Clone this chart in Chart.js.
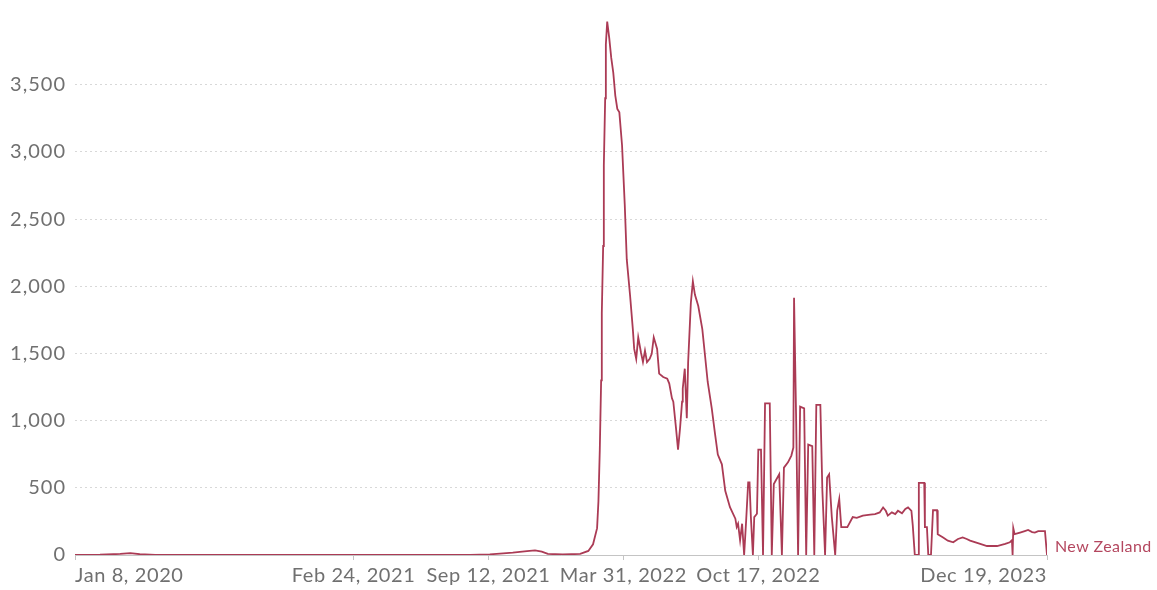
<!DOCTYPE html>
<html>
<head>
<meta charset="utf-8">
<script src="https://cdn.jsdelivr.net/npm/chart.js@4.4.1/dist/chart.umd.min.js"></script>
<style>
  html, body { margin: 0; padding: 0; background: #fff; }
</style>
</head>
<body>
<canvas id="chart" width="1157" height="590"></canvas>
<script>
// Daily new confirmed cases per million, New Zealand
// days = days since Jan 8, 2020
const days = [
    0, 7, 37, 67, 82, 96, 119, 156, 259, 334, 482, 586, 615, 630, 649, 670, 682, 692, 701, 723,
    749, 761, 768, 774, 776, 778, 780, 781, 783, 784, 786, 787, 789, 792, 795, 798, 801, 804, 807, 811,
    815, 818, 823, 827, 829, 832, 835, 839, 842, 845, 848, 852, 855, 858, 863, 866, 872, 878, 881, 885,
    887, 891, 894, 897, 900, 901, 904, 907, 909, 913, 916, 919, 924, 930, 934, 938, 944, 949, 953, 959,
    964, 971, 979, 981, 983, 986, 989, 992, 995, 998, 1000, 1002, 1005, 1007, 1011, 1013, 1017, 1020, 1023, 1030,
    1033, 1036, 1044, 1048, 1051, 1057, 1062, 1065, 1066, 1069, 1072, 1075, 1081, 1084, 1087, 1093, 1096, 1099, 1105, 1108,
    1112, 1115, 1118, 1122, 1127, 1130, 1133, 1136, 1145, 1153, 1159, 1168, 1179, 1186, 1193, 1198, 1202, 1205, 1211, 1216,
    1220, 1226, 1231, 1235, 1240, 1242, 1245, 1250, 1251, 1259, 1260, 1263, 1265, 1269, 1272, 1278, 1279, 1287, 1294, 1302,
    1309, 1316, 1322, 1327, 1342, 1352, 1367, 1379, 1386, 1389, 1390, 1391, 1393, 1401, 1408, 1413, 1419, 1423, 1428, 1438,
    1441
];
const cases = [
    0, 0, 2, 8, 14, 6, 1, 0, 1, 1, 0, 1, 5, 10, 17, 29, 34, 25, 8, 4,
    8, 30, 80, 200, 400, 780, 1300, 1800, 2300, 2900, 3400, 3800, 3970, 3850, 3700, 3590, 3420, 3320, 3295, 3050,
    2610, 2200, 1926, 1681, 1534, 1460, 1620, 1509, 1436, 1521, 1436, 1460, 1497, 1620, 1534, 1350, 1325, 1313, 1276, 1166,
    1141, 945, 785, 945, 1141, 1239, 1387, 1018, 1436, 1877, 2037, 1939, 1853, 1681, 1485, 1288, 1092, 896, 748, 675,
    478, 356, 270, 209, 233, 110, 233, 0, 258, 540, 540, 282, 0, 282, 307, 785, 785, 0, 1129, 1129,
    0, 528, 601, 0, 650, 690, 740, 800, 1914, 1043, 0, 1104, 1092, 0, 822, 810, 0, 1117, 1117, 478,
    0, 577, 601, 282, 0, 331, 417, 208, 208, 282, 276, 293, 300, 305, 317, 354, 329, 293, 317, 305,
    329, 310, 342, 354, 329, 220, 0, 0, 537, 537, 207, 207, 0, 0, 333, 333, 155, 131, 107, 95,
    119, 131, 119, 107, 83, 67, 67, 83, 95, 110, 0, 200, 155, 167, 178, 186, 171, 167, 178, 178,
    0
];

const startDate = '2020-01-08';
const tickDates = ['2020-01-08', '2021-02-24', '2021-09-12', '2022-03-31', '2022-10-17', '2023-12-19'];
const tickLabels = ['Jan 8, 2020', 'Feb 24, 2021', 'Sep 12, 2021', 'Mar 31, 2022', 'Oct 17, 2022', 'Dec 19, 2023'];
const yTicks = [0, 500, 1000, 1500, 2000, 2500, 3000, 3500];
const seriesName = 'New Zealand';

const lineColor = '#ab3b55';
const textGray = '#707070';

function dayOf(d) {
    return (Date.parse(d) - Date.parse('2020-01-08')) / 86400000;
}

// x tick labels (first left aligned, last right aligned) + series label at the line end
const labelPlugin = {
    id: 'owidLabels',
    beforeDraw(chart) {
        // the reference text runs a little wider than plain Lato
        chart.ctx.letterSpacing = '1px';
    },
    afterDraw(chart) {
        const { ctx, chartArea } = chart;
        const x = chart.scales.x;
        const y = chart.scales.y;
        ctx.save();
        ctx.letterSpacing = '0.6px';
        ctx.font = '20px Lato';
        ctx.fillStyle = textGray;
        ctx.textBaseline = 'middle';
        tickLabels.forEach((t, i) => {
            const px = x.getPixelForValue(dayOf(tickDates[i]));
            ctx.textAlign = i === 0 ? 'left' : (i === tickLabels.length - 1 ? 'right' : 'center');
            ctx.fillText(t, px, chartArea.bottom + 21);
        });
        ctx.letterSpacing = '0.4px';
        ctx.font = '16px Lato';
        ctx.fillStyle = '#b4475f';
        ctx.textAlign = 'left';
        const last = days.length - 1;
        ctx.fillText(seriesName, x.getPixelForValue(days[last]) + 8, y.getPixelForValue(cases[last]) - 8);
        ctx.restore();
        ctx.letterSpacing = '0px';
    }
};

const ctx = document.getElementById('chart').getContext('2d');
const chart = new Chart(ctx, {
    type: 'line',
    data: {
        datasets: [{
            label: seriesName,
            data: days.map((d, i) => ({ x: d, y: cases[i] })),
            borderColor: lineColor,
            borderWidth: 1.8,
            pointRadius: 0,
            tension: 0,
            fill: false
        }]
    },
    options: {
        responsive: false,
        animation: false,
        layout: {
            padding: { top: 14, right: 110, left: 0, bottom: 0 }
        },
        plugins: {
            legend: { display: false },
            tooltip: { enabled: false }
        },
        scales: {
            x: {
                type: 'linear',
                min: 0,
                max: dayOf(tickDates[tickDates.length - 1]),
                afterBuildTicks: scale => {
                    scale.ticks = tickDates.map(d => ({ value: dayOf(d) }));
                },
                afterFit: scale => { scale.height = 35; },
                ticks: { display: false },
                grid: {
                    drawOnChartArea: false,
                    drawTicks: true,
                    tickLength: 5,
                    color: '#c4c4c4'
                },
                border: { display: true, color: '#c4c4c4', width: 1 }
            },
            y: {
                min: 0,
                max: 3975,
                afterBuildTicks: scale => {
                    scale.ticks = yTicks.map(v => ({ value: v }));
                },
                afterFit: scale => { scale.width = 75; },
                ticks: {
                    padding: 9,
                    color: textGray,
                    font: { family: 'Lato', size: 20 },
                    callback: v => v.toLocaleString('en-US')
                },
                grid: {
                    drawTicks: false,
                    color: '#d8d8d8',
                    lineWidth: 1
                },
                border: { display: false, dash: [2, 3] }
            }
        }
    },
    plugins: [labelPlugin]
});
</script>
</body>
</html>
